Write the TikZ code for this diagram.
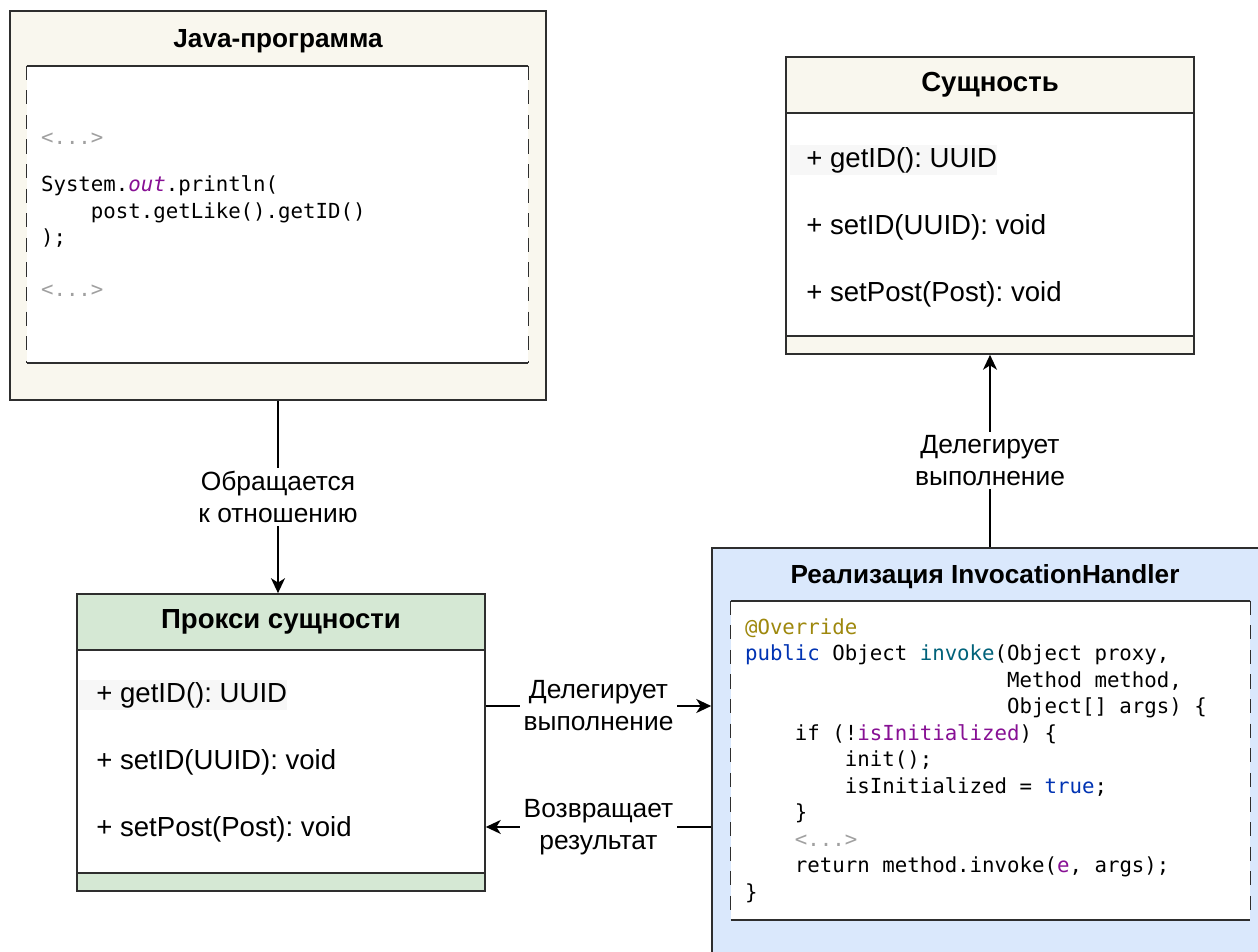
\documentclass[tikz,border=0pt]{standalone}
\usepackage{fontspec}
\setmainfont{Liberation Sans}
\setmonofont{DejaVu Sans Mono}
\usetikzlibrary{arrows.meta, positioning}
\frenchspacing
\definecolor{linegray}{HTML}{2E2E2E}
\definecolor{beige}{HTML}{F9F7EE}
\definecolor{mint}{HTML}{D5E8D4}
\definecolor{sky}{HTML}{DAE8FC}
\definecolor{kwblue}{HTML}{0033B3}
\definecolor{annot}{HTML}{9E880D}
\definecolor{field}{HTML}{871094}
\definecolor{callteal}{HTML}{00627A}
\definecolor{elide}{HTML}{A0A0A0}

\newcommand{\umlfont}{\fontsize{15.7pt}{18.8pt}\selectfont}
\newcommand{\titlefont}{\fontsize{14.9pt}{17.9pt}\selectfont\bfseries}
\newcommand{\edgefont}{\fontsize{15pt}{18.2pt}\selectfont}
\newcommand{\codefont}{\fontsize{11.8pt}{15.1pt}\selectfont\ttfamily}
% align=left shrinks blanks to .3333em, so put full-width ones back
\newcommand{\codespaces}{\spaceskip=\fontcharwd\font`0\relax \xspaceskip=\spaceskip}

\begin{document}
\begin{tikzpicture}[
    x=0.02cm, y=-0.02cm,
    box/.style={rectangle, draw=linegray, line width=1pt, inner sep=0pt},
    head/.style={box, minimum width=8.16cm, minimum height=1.12cm, font=\umlfont\bfseries},
    body/.style={box, fill=white, minimum width=8.16cm, minimum height=4.46cm},
    foot/.style={box, minimum width=8.16cm, minimum height=0.36cm},
    member/.style={anchor=west, font=\umlfont, inner sep=0pt},
    hilite/.style={member, fill=black!3, minimum height=0.6cm},
    title/.style={font=\titlefont},
    codebox/.style={rectangle, fill=white, inner xsep=0.28cm, align=left, font=\codefont},
    dashside/.style={draw=linegray, line width=0.6pt, dash pattern=on 8pt off 6pt},
    note/.style={fill=white, font=\edgefont, align=center, inner sep=2pt},
    arrow/.style={-{Stealth[length=8.5pt, width=8pt, inset=2.5pt]}, line width=0.9pt, draw=black}
]
\path[use as bounding box, fill=white] (0,0) rectangle (1258,951);

% calling program
\node[box, fill=beige, minimum width=10.72cm, minimum height=7.78cm] (java) at (278,205.5) {};
\node[title] (jtitle) at (278,41) {Java-программа};
\node[codebox, minimum width=10.02cm, minimum height=5.94cm, text width=9.46cm] (jcode) at (277.5,214.5) {\codespaces
\textcolor{elide}{<...>}\\[11.9pt]
System.\textcolor{field}{\textit{out}}.println(\\
\phantom{0000}post.getLike().getID()\\
);\\[14pt]
\textcolor{elide}{<...>}};
\draw[line width=1pt, draw=linegray] (jcode.north west) -- (jcode.north east) (jcode.south west) -- (jcode.south east);
\draw[dashside] (jcode.north west) -- (jcode.south west) (jcode.north east) -- (jcode.south east);

% entity class
\node[head, fill=beige] (ehead) at (990,85) {Сущность};
\node[body, below=-1pt of ehead] (ebody) {};
\node[foot, fill=beige, below=-1pt of ebody] (efoot) {};
\node[hilite] (eget) at (790,160) {\hspace*{0.32cm}+ getID(): UUID};
\node[member] (eset) at (806,227) {+ setID(UUID): void};
\node[member] (epost) at (806,294) {+ setPost(Post): void};

% proxy class
\node[head, fill=mint] (phead) at (281,622) {Прокси сущности};
\node[body, below=-1pt of phead] (pbody) {};
\node[foot, fill=mint, below=-1pt of pbody] (pfoot) {};
\node[hilite] (pget) at (79,695) {\hspace*{0.34cm}+ getID(): UUID};
\node[member] (pset) at (96,762) {+ setID(UUID): void};
\node[member] (ppost) at (96,829) {+ setPost(Post): void};

% invocation handler
\node[box, fill=sky, minimum width=11cm, minimum height=8.14cm] (handler) at (987,751.5) {};
\node[title] (htitle) at (985,577) {Реализация InvocationHandler};
\node[codebox, minimum width=10.38cm, minimum height=6.38cm, text width=9.82cm] (hcode) at (990.5,760.5) {\codespaces
\textcolor{annot}{@Override}\\
\textcolor{kwblue}{public} Object \textcolor{callteal}{invoke}(Object proxy,\\
\phantom{public Object invoke(}Method method,\\
\phantom{public Object invoke(}Object[] args) \{\\
\phantom{0000}if (!\textcolor{field}{isInitialized}) \{\\
\phantom{00000000}init();\\
\phantom{00000000}isInitialized = \textcolor{kwblue}{true};\\
\phantom{0000}\}\\
\phantom{0000}\textcolor{elide}{<...>}\\
\phantom{0000}return method.invoke(\textcolor{field}{e}, args);\\
\}};
\draw[line width=1pt, draw=linegray] (hcode.north west) -- (hcode.north east) (hcode.south west) -- (hcode.south east);
\draw[dashside] (hcode.north west) -- (hcode.south west) (hcode.north east) -- (hcode.south east);

% connectors
\draw[arrow] (java.south) -- node[note] {Обращается\\к отношению} (java.south |- phead.north);
\draw[arrow] (efoot.south |- handler.north) -- node[note, pos=0.45] {Делегирует\\выполнение} (efoot.south);
\draw[arrow] ([yshift=1.11cm]pbody.east) -- node[note] {Делегирует\\выполнение} ([yshift=1.11cm]pbody.east -| handler.west);
\draw[arrow] ([yshift=-1.31cm]pbody.east -| handler.west) -- node[note] {Возвращает\\результат} ([yshift=-1.31cm]pbody.east);

\end{tikzpicture}
\end{document}
